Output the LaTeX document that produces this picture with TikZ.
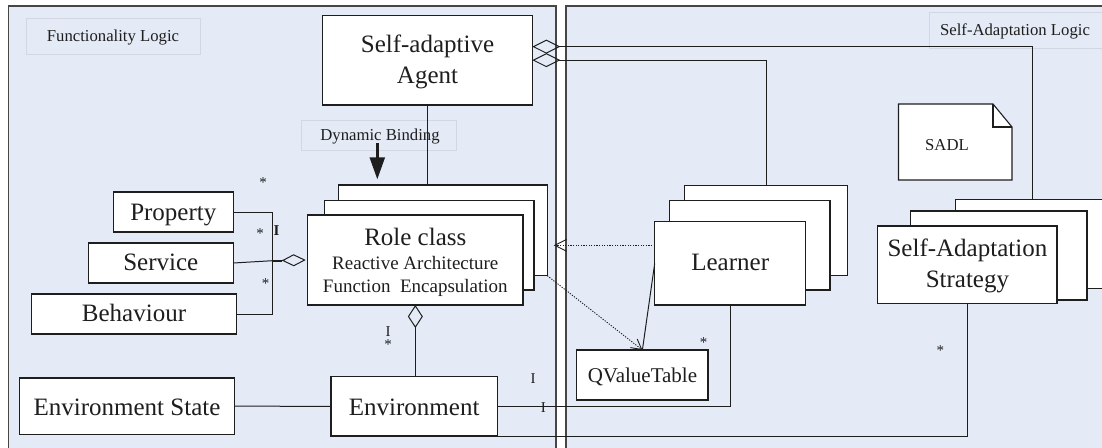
\documentclass[tikz,border=0pt]{standalone}
\usepackage{fontspec}
\setmainfont{Liberation Serif}
\usetikzlibrary{arrows.meta,calc}
\definecolor{panelfill}{RGB}{229,235,246}
\definecolor{panelline}{RGB}{70,70,70}
\definecolor{faintline}{RGB}{210,215,225}
\definecolor{ink}{RGB}{30,30,30}
\newcommand\fbig{\fontsize{25}{30}\selectfont}
\newcommand\fmid{\fontsize{19}{23}\selectfont}
\newcommand\fqv{\fontsize{21}{25}\selectfont}
\newcommand\fsmall{\fontsize{16.7}{20}\selectfont}
\newcommand\fmark{\fontsize{15}{18}\selectfont}
\newcommand\mkbox[6][box]{\node[#1,minimum width={#5-#3},minimum height={#6-#4}] (#2) at (#3,#4) {};}
\begin{document}
\begin{tikzpicture}[x=1pt,y=-1pt,
  panel/.style={fill=panelfill,draw=panelline,line width=1.3pt},
  box/.style={draw=ink,fill=white,line width=1.1pt,inner sep=0pt,outer sep=0pt,anchor=north west},
  faintbox/.style={draw=faintline,line width=0.8pt,inner sep=0pt,outer sep=0pt,anchor=north west},
  conn/.style={draw=ink,line width=1pt},
  dotconn/.style={draw=ink,line width=0.9pt,dash pattern=on 1.2pt off 1.4pt},
  lbl/.style={inner sep=0pt,anchor=base,text=ink},
  aggr/.style={{Diamond[open,length=28pt,width=14pt]}-},
]
\useasboundingbox (0,0) rectangle (1102,447);
\begin{scope}
\clip (0,0) rectangle (1102,447);
% panels
\draw[panel] (8.3,6) rectangle (556,470);
\draw[panel] (566,6) rectangle (1130,470);
% faint label boxes
\mkbox[faintbox]{funcbox}{26}{18}{200}{54}
\mkbox[faintbox]{sabox}{929}{12.7}{1120}{48}
\mkbox[faintbox]{dynbox}{301.7}{120}{456}{150}
\node[lbl,font=\fsmall] (funclbl) at (113,41.5) {Functionality Logic};
\node[lbl,font=\fsmall] (salbl) at (1015,35.6) {Self-Adaptation Logic};
\node[lbl,font=\fsmall] (dynlbl) at (380,140) {Dynamic Binding};
% SADL note
\draw[ink,fill=white,line width=1.1pt] (898.5,104) -- (993,104) -- (1012,127) -- (1012,180) -- (898.5,180) -- cycle;
\draw[ink,line width=1.1pt] (993,104) -- (993,127) -- (1012,127);
\node[lbl,font=\fsmall] (sadl) at (947,150) {SADL};
% boxes
\mkbox{agent}{322.7}{15.3}{532.3}{105}
\mkbox{roleb}{338.3}{185}{547.3}{275.7}
\mkbox{rolem}{324.3}{200.7}{534}{290}
\mkbox{rolef}{307.7}{215}{523}{305}
\mkbox{prop}{113.3}{192}{233.3}{232}
\mkbox{serv}{88.3}{243}{233.3}{283}
\mkbox{behav}{31.7}{294}{236.3}{334}
\mkbox{envst}{19.3}{378}{234.7}{434.3}
\mkbox{env}{331}{376.7}{497.3}{436}
\mkbox{learnb}{684.7}{185.3}{847.7}{275.7}
\mkbox{learnm}{669.7}{200.7}{830}{290}
\mkbox{learnf}{654.7}{221.7}{805.7}{305}
\mkbox{qvt}{576.8}{350}{708}{400}
\mkbox{sasb}{955.3}{199.3}{1110}{288.3}
\mkbox{sasm}{910.3}{211}{1087}{300}
\mkbox{sasf}{877.7}{226}{1057}{303.3}
% texts
\node[lbl,font=\fbig] (agent1) at (427.5,52) {Self-adaptive};
\node[lbl,font=\fbig] (agent2) at (427.5,83) {Agent};
\node[lbl,font=\fbig] (role1) at (415.3,245) {Role class};
\node[lbl,font=\fmid] (role2) at (415.3,269.4) {Reactive Architecture};
\node[lbl,font=\fmid] (role3) at (415.3,292.3) {Function\ \ Encapsulation};
\node[lbl,font=\fbig] (proptx) at (173.3,220) {Property};
\node[lbl,font=\fbig] (servtx) at (160.8,270) {Service};
\node[lbl,font=\fbig] (behavtx) at (134,321.7) {Behaviour};
\node[lbl,font=\fbig] (envsttx) at (127,415) {Environment State};
\node[lbl,font=\fbig] (envtx) at (414.2,415) {Environment};
\node[lbl,font=\fbig] (learntx) at (730.2,270.7) {Learner};
\node[lbl,font=\fbig] (sas1) at (967.4,256.7) {Self-Adaptation};
\node[lbl,font=\fbig] (sas2) at (967.4,287.3) {Strategy};
\node[lbl,font=\fqv] (qvttx) at (642.4,382.3) {QValueTable};
% connectors
\draw[conn,aggr] ($(agent.east)+(0,-13.5)$) -| (sasb.north);
\draw[conn,aggr] (agent.east) -| (learnb.north);
\draw[conn] (agent.south) -- (agent.south |- roleb.north);
\coordinate (dbs) at (377.3,143.3);
\coordinate (dbt) at (377.3,179.3);
\draw[ink,line width=2.4pt,-{Triangle[length=22pt,width=15pt]}] (dbs) -- (dbt);
\coordinate (busx) at (272.3,0);
\coordinate (busS) at (272.3,260.7);
\draw[conn] (prop.east) -- (prop.east -| busx) -- (behav.east -| busx) -- (behav.east);
\draw[conn,{Diamond[open,length=24pt,width=12pt]}-] ($(rolef.west)+(-2,0)$) -- (busS) -- (serv.east);
\draw[ink,line width=2.2pt] (busS) -- ++(10,0);
\draw[conn,{Diamond[open,length=23pt,width=15pt]}-] (rolef.south) -- (rolef.south |- env.north);
\draw[conn] (envst.east) -- (env.west);
\draw[conn] (env.east) -| (learnf.south);
\draw[conn] (env.south east) -| (sasf.south);
\coordinate (dtip) at (553.7,245.3);
\draw[dotconn,-{Straight Barb[length=12pt,width=12pt]}] (learnf.west |- dtip) -- (dtip);
\draw[dotconn,-{Straight Barb[length=10pt,width=11pt]}] (roleb.south east) -- (qvt.north);
\draw[conn] (learnf.west) -- (qvt.north);
% multiplicities
\node[lbl,font=\fmark] (m1) at (263,187) {*};
\node[lbl,font=\fmark] (m2) at (260,238) {*};
\node[lbl,font=\fmark\bfseries] (m3) at (276.5,235) {I};
\node[lbl,font=\fmark] (m4) at (265.7,288.7) {*};
\node[lbl,font=\fmark] (m5) at (388,336) {I};
\node[lbl,font=\fmark] (m6) at (388,349) {*};
\node[lbl,font=\fmark] (m7) at (533,383) {I};
\node[lbl,font=\fmark] (m8) at (543.4,412.5) {I};
\node[lbl,font=\fmark] (m9) at (703.7,347.7) {*};
\node[lbl,font=\fmark] (m10) at (940.3,355.3) {*};
\end{scope}
\end{tikzpicture}
\end{document}
